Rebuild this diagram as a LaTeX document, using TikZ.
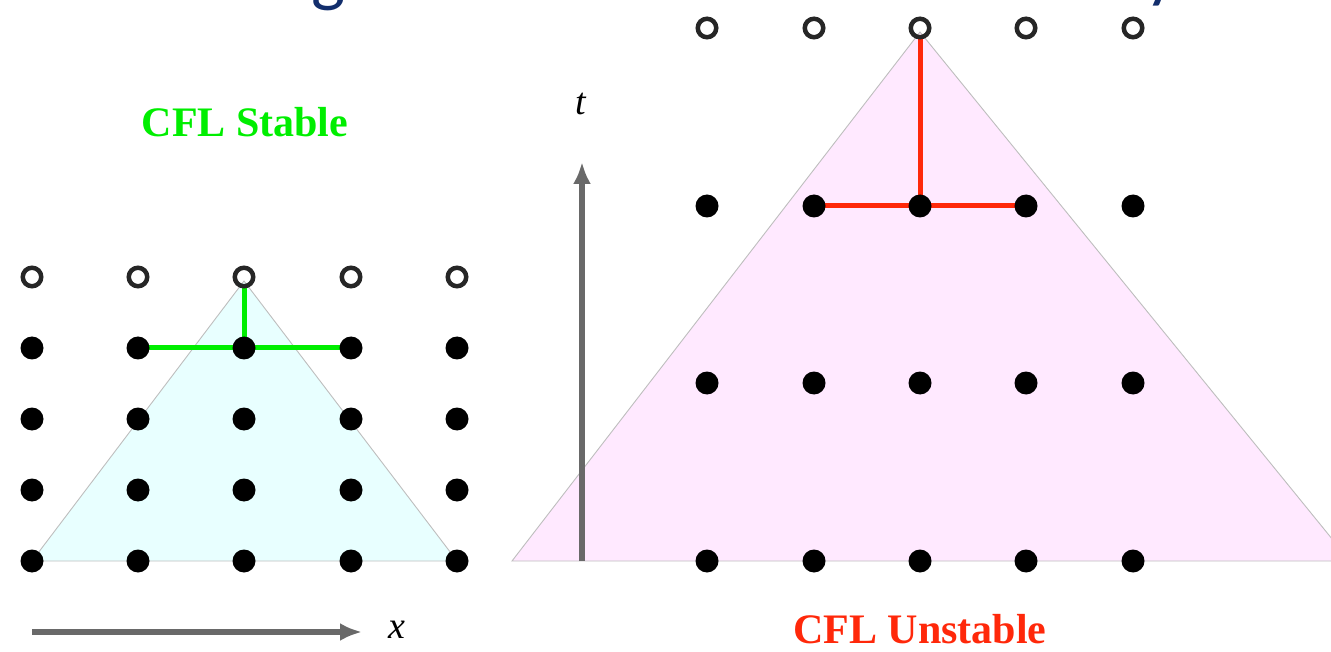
\documentclass[tikz,border=0pt]{standalone}
\usepackage{fontspec}
\setmainfont{Liberation Serif}
\newfontfamily\titlefont{Carlito}
\usetikzlibrary{arrows.meta,backgrounds}
\definecolor{cflgreen}{RGB}{0,238,0}
\definecolor{cflred}{RGB}{255,40,10}
\definecolor{cyanfill}{RGB}{232,255,255}
\definecolor{pinkfill}{RGB}{255,233,255}
\definecolor{axisgray}{RGB}{105,105,105}
\definecolor{conegray}{RGB}{190,190,190}
\definecolor{titleblue}{RGB}{18,46,108}
\begin{document}
\begin{tikzpicture}[x=1pt,y=-1pt,
  fdot/.style={circle,fill=black,inner sep=0pt,minimum size=23pt},
  odot/.style={circle,draw=black!85,line width=4.5pt,inner sep=0pt,minimum size=18.5pt},
  coneedge/.style={draw=conegray,line width=0.9pt},
  stableline/.style={draw=cflgreen,line width=5pt},
  unstableline/.style={draw=cflred,line width=5pt},
  axisarrow/.style={draw=axisgray,line width=5.5pt,-{Latex[length=22pt,width=18pt]}},
  axislabel/.style={inner sep=0pt,font=\fontsize{38}{38}\selectfont\itshape},
  cfllabel/.style={inner sep=0pt,font=\fontsize{42}{42}\selectfont\bfseries},
  titlefrag/.style={anchor=south,inner sep=0pt,text=titleblue,font=\titlefont\fontsize{72}{72}\selectfont}
]
\useasboundingbox (0,0) rectangle (1331,652);
\clip (0,0) rectangle (1331,652);

% cut-off title fragments
\node[titlefrag] (tg) at (328,11) {g};
\node[titlefrag] (ty) at (1162,6) {y};

% left grid
\foreach \i/\x in {1/32,2/138,3/244,4/351,5/457}{
  \node[odot] (lo\i) at (\x,277) {};
  \node[fdot] (la\i) at (\x,348) {};
  \node[fdot] (lb\i) at (\x,419) {};
  \node[fdot] (lc\i) at (\x,490) {};
  \node[fdot] (ld\i) at (\x,561) {};
}
% right grid
\foreach \i/\x in {1/707,2/814,3/920,4/1026,5/1133}{
  \node[odot] (ro\i) at (\x,28) {};
  \node[fdot] (ra\i) at (\x,206) {};
  \node[fdot] (rb\i) at (\x,383) {};
  \node[fdot] (rc\i) at (\x,561) {};
}

\begin{scope}[on background layer]
  \clip (0,0) rectangle (1331,652);
  % domains of dependence
  \fill[cyanfill] (244,281) -- (32,561) -- (457,561) -- cycle;
  \draw[coneedge] (244,281) -- (32,561) -- (457,561) -- cycle;
  \fill[pinkfill] (920,32) -- (512,561) -- (1350,561) -- cycle;
  \draw[coneedge] (920,32) -- (512,561) -- (1350,561) -- cycle;
  % stencils
  \draw[stableline] (lo3.south) -- (la3.center);
  \draw[stableline] (la2.center) -- (la4.center);
  \draw[unstableline] (ro3.south) -- (ra3.center);
  \draw[unstableline] (ra2.center) -- (ra4.center);
\end{scope}

% axes
\coordinate (xs) at (32,632);
\coordinate (xe) at (362,632);
\draw[axisarrow] (xs) -- (xe);
\node[axislabel] (xl) at (397,630) {x};
\coordinate (ts) at (582,561);
\coordinate (te) at (582,162);
\draw[axisarrow] (ts) -- (te);
\node[axislabel] (tl) at (581,104) {t};

% labels
\node[cfllabel,text=cflgreen] (stable) at (245,122) {CFL Stable};
\node[cfllabel,text=cflred] (unstable) at (920,629) {CFL Unstable};
\end{tikzpicture}
\end{document}
